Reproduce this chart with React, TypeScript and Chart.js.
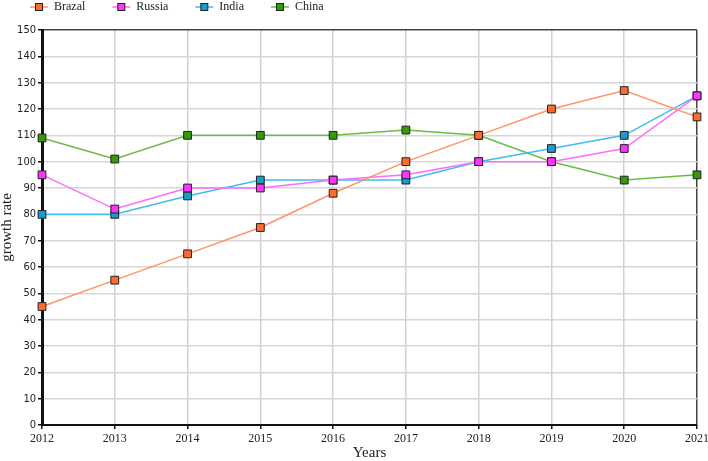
import React, { useEffect, useRef } from 'react';
import { Chart, registerables } from 'chart.js';

Chart.register(...registerables);

const years = ['2012', '2013', '2014', '2015', '2016', '2017', '2018', '2019', '2020', '2021'];
const brazil = [45, 55, 65, 75, 88, 100, 110, 120, 127, 117];
const russia = [95, 82, 90, 90, 93, 95, 100, 100, 105, 125];
const india = [80, 80, 87, 93, 93, 93, 100, 105, 110, 125];
const china = [109, 101, 110, 110, 110, 112, 110, 100, 93, 95];
const yMin = 0;
const yMax = 150;
const yStep = 10;

const SERIF = '"Liberation Serif", "Times New Roman", serif';
const SANS = '"DejaVu Sans Condensed", "Liberation Sans", sans-serif';

const legendPlugin = {
  id: 'customLegend',
  afterDraw(chart: any) {
    const ctx = chart.ctx;
    ctx.save();
    ctx.font = `12px ${SERIF}`;
    ctx.textBaseline = 'middle';
    ctx.textAlign = 'left';
    let x = 30;
    const y = 7;
    chart.data.datasets.forEach((ds: any) => {
      ctx.strokeStyle = ds.borderColor;
      ctx.lineWidth = 1.5;
      ctx.beginPath();
      ctx.moveTo(x, y);
      ctx.lineTo(x + 18, y);
      ctx.stroke();
      ctx.fillStyle = ds.pointBackgroundColor;
      ctx.fillRect(x + 5.5, y - 3.5, 7, 7);
      ctx.strokeStyle = '#222';
      ctx.lineWidth = 1;
      ctx.strokeRect(x + 5.5, y - 3.5, 7, 7);
      ctx.fillStyle = '#222';
      ctx.fillText(ds.label, x + 24, y);
      x += 24 + ctx.measureText(ds.label).width + 27;
    });
    ctx.restore();
  },
};

function mk(label: string, data: number[], line: string, fill: string) {
  return {
    label,
    data,
    borderColor: line,
    backgroundColor: line,
    borderWidth: 1.5,
    pointStyle: 'rect' as const,
    pointRadius: 5.5,
    pointHoverRadius: 5.5,
    pointBackgroundColor: fill,
    pointBorderColor: '#222',
    pointBorderWidth: 1,
    tension: 0,
    fill: false,
    clip: false as any,
  };
}

export default function App() {
  const ref = useRef<HTMLCanvasElement | null>(null);
  useEffect(() => {
    document.body.style.margin = '0';
    const canvas = ref.current!;
    const chart = new Chart(canvas, {
      type: 'line',
      data: {
        labels: years,
        datasets: [
          mk('Brazal', brazil, '#FF9466', '#FF6A2E'),
          mk('Russia', russia, '#FF6BFF', '#FF33FF'),
          mk('India', india, '#3FBDEB', '#1A9BD0'),
          mk('China', china, '#6CBB44', '#339A0A'),
        ],
      },
      options: {
        responsive: false,
        animation: false,
        layout: { padding: { top: 30, right: 11, bottom: 0, left: 0 } },
        plugins: {
          legend: { display: false },
          tooltip: { enabled: false },
        },
        scales: {
          x: {
            type: 'category',
            offset: false,
            grid: {
              color: (c: any) => (c.index === years.length - 1 ? '#444' : '#d2d2d2'),
              lineWidth: 1.5,
              tickLength: 4,
              tickColor: '#111',
              drawTicks: true,
            },
            border: { color: '#111', width: 2 },
            ticks: {
              color: '#222',
              font: { family: SERIF, size: 12 },
              padding: 3,
              maxRotation: 0,
              autoSkip: false,
            },
            title: {
              display: true,
              text: 'Years',
              color: '#222',
              font: { family: SERIF, size: 15, lineHeight: 1 },
              padding: { top: 0, bottom: 0 },
            },
            afterFit: (s: any) => {
              s.height = 36;
              s.paddingLeft = 0;
              s.paddingRight = 0;
            },
          },
          y: {
            min: yMin,
            max: yMax,
            grid: {
              color: (c: any) => (c.tick && c.tick.value === yMax ? '#444' : '#d6d6d6'),
              lineWidth: 1.5,
              tickLength: 4,
              tickColor: '#111',
            },
            border: { color: '#111', width: 3 },
            ticks: {
              stepSize: yStep,
              color: '#222',
              font: { family: SANS, size: 11 },
              padding: 2,
            },
            title: {
              display: true,
              text: 'growth rate',
              color: '#222',
              font: { family: SERIF, size: 15, lineHeight: 1 },
              padding: { top: 0, bottom: 0 },
            },
            afterFit: (s: any) => {
              s.width = 42;
            },
          },
        },
      },
      plugins: [legendPlugin],
    });
    return () => chart.destroy();
  }, []);
  return (
    <div style={{ position: 'absolute', left: 0, top: 0, width: 708, height: 461 }}>
      <canvas ref={ref} width={708} height={461} style={{ display: 'block' }} />
    </div>
  );
}
